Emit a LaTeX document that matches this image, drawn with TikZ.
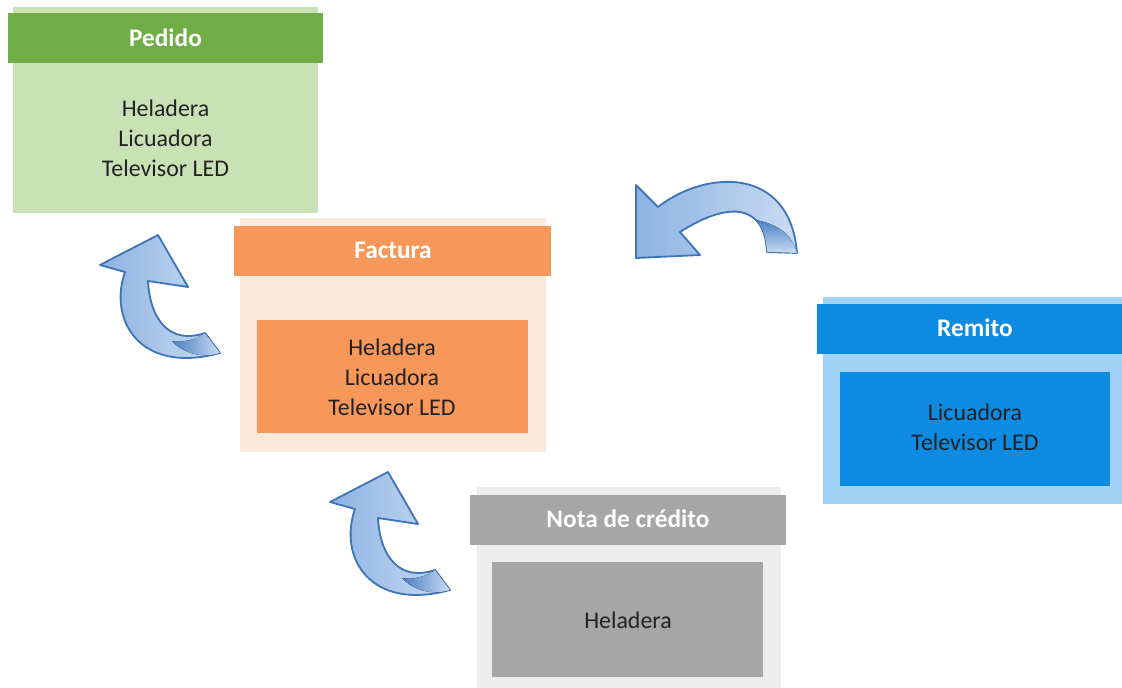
\documentclass[tikz,border=0pt]{standalone}
\usepackage{fontspec}
\setmainfont{Carlito}
\usepackage{xcolor}

\definecolor{pedidoverde}{HTML}{70AD47}
\definecolor{pedidoclaro}{HTML}{C9E2B5}
\definecolor{facturanaranja}{HTML}{F8975A}
\definecolor{facturaclaro}{HTML}{FDE9DB}
\definecolor{remitoazul}{HTML}{0D8AE2}
\definecolor{remitoclaro}{HTML}{A0D3F7}
\definecolor{notagris}{HTML}{A6A6A6}
\definecolor{notaclaro}{HTML}{EDEDED}
\definecolor{textoitems}{HTML}{222222}
\definecolor{flechaborde}{HTML}{3F74B8}
\definecolor{flechamedia}{HTML}{8DB3E2}
\definecolor{flechaclara}{HTML}{C9DBF2}
\definecolor{flechaoscura}{HTML}{4A7FC4}

% curved block arrow pointing up (pixel units)
\newcommand{\flechaarriba}{%
  \path[flecha] (158,235) -- (100,265) -- (125,272)
    .. controls (108,320) and (140,375) .. (220,353) -- (205,333)
    .. controls (170,345) and (150,320) .. (148,281) -- (188,287) -- cycle;
  \fill[left color=flechaoscura, right color=flechaclara]
    (205,333) .. controls (195,340) and (183,343) .. (172,341)
    .. controls (185,355) and (205,358) .. (220,353) -- cycle;
}

\begin{document}
\begin{tikzpicture}[x=0.025cm, y=-0.025cm,
  titulo/.style={font=\fontsize{18}{22}\selectfont\bfseries, text=white},
  items/.style={align=center, font=\fontsize{17}{21.3}\selectfont, text=textoitems},
  flecha/.style={draw=flechaborde, line width=1.3pt, line join=round,
    left color=flechamedia, right color=flechaclara}]
  \useasboundingbox (0,0) rectangle (1122,688);

  % Pedido
  \fill[pedidoclaro] (13,7) rectangle (318,213);
  \fill[pedidoverde] (8,13) rectangle (323,63);
  \node[titulo] (pedido) at (165.5,38) {Pedido};
  \node[items] (pedidoitems) at (165.5,138) {Heladera\\Licuadora\\Televisor LED};

  % Factura
  \fill[facturaclaro] (240,218) rectangle (546,452);
  \fill[facturanaranja] (234,226) rectangle (551,276);
  \fill[facturanaranja] (257,320) rectangle (528,433);
  \node[titulo] (factura) at (393,250) {Factura};
  \node[items] (facturaitems) at (392,377) {Heladera\\Licuadora\\Televisor LED};

  % Remito
  \fill[remitoclaro] (823,297) rectangle (1122,504);
  \fill[remitoazul] (817,304) rectangle (1122,354);
  \fill[remitoazul] (840,372) rectangle (1110,486);
  \node[titulo] (remito) at (975,328) {Remito};
  \node[items] (remitoitems) at (975,427) {Licuadora\\Televisor LED};

  % Nota de credito
  \fill[notaclaro] (477,487) rectangle (781,688);
  \fill[notagris] (470,495) rectangle (786,545);
  \fill[notagris] (492,562) rectangle (763,677);
  \node[titulo] (nota) at (628,519) {Nota de crédito};
  \node[items] (notaitems) at (628,620) {Heladera};

  % curved arrows
  \path[flecha] (636,258) -- (636,185) -- (658,207)
    .. controls (705,170) and (790,165) .. (797,253) -- (767,252)
    .. controls (765,205) and (730,200) .. (680,232) -- (700,255) -- cycle;
  \fill[top color=flechaoscura, bottom color=flechaclara]
    (767,252) .. controls (766,238) and (763,228) .. (756,220)
    .. controls (780,225) and (792,235) .. (797,253) -- cycle;
  \flechaarriba
  \begin{scope}[shift={(230,237)}]
    \flechaarriba
  \end{scope}
\end{tikzpicture}
\end{document}
